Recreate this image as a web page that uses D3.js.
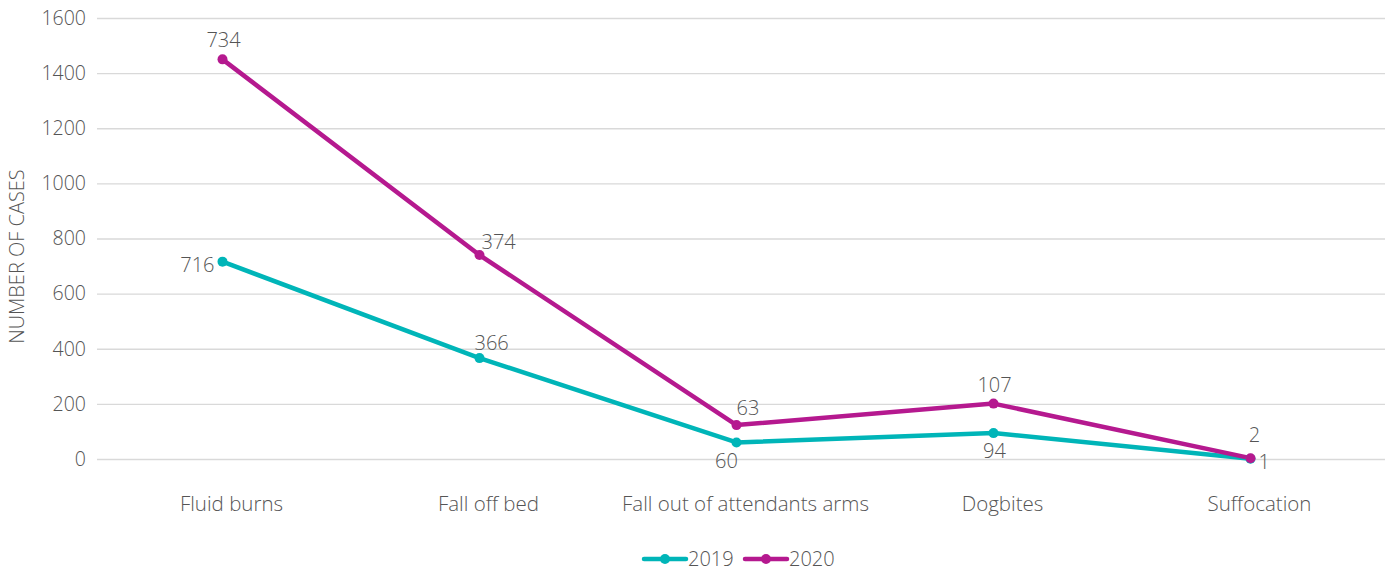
<!DOCTYPE html>
<html>
<head>
<meta charset="utf-8">
<script src="https://cdn.jsdelivr.net/npm/d3@7"></script>
<style>
  body { margin: 0; background: #fff; }
  text { font-family: "Open Sans", Lato, sans-serif; font-weight: 300; fill: #555555; }
</style>
</head>
<body>
<div id="chart"></div>
<script>
const categories = ["Fluid burns", "Fall off bed", "Fall out of attendants arms", "Dogbites", "Suffocation"];
const values2019 = [716, 366, 60, 94, 1];
const values2020 = [734, 374, 63, 107, 2];
const yTicks = [0, 200, 400, 600, 800, 1000, 1200, 1400, 1600];
const seriesNames = ["2019", "2020"];

const COLORS = { s2019: "#00B5B8", s2020: "#B5198F", grid: "#d9d9d9", text: "#555555" };
// label placement for each point
const place2019 = ["left", "aboveRight", "belowLeft", "below", "rightLow"];
const place2020 = ["above", "right", "aboveStart", "above", "aboveHigh"];

const W = 1389, H = 574;
const margin = { top: 18, right: 4, bottom: 115, left: 97 };
const width = W - margin.left - margin.right;
const height = H - margin.top - margin.bottom;

const svg = d3.select("#chart").append("svg")
    .attr("width", W).attr("height", H)
    .append("g")
    .attr("transform", `translate(${margin.left}, ${margin.top})`);

const x = d3.scaleBand().domain(categories).range([-3, width - 6]);
const y = d3.scaleLinear().domain([0, 1600]).range([height, 0]);

// grid + y axis
svg.append("g")
    .call(d3.axisLeft(y).tickValues(yTicks).tickSize(-width).tickPadding(11).tickFormat(d3.format("d")))
    .call(g => g.select(".domain").remove())
    .call(g => g.selectAll(".tick line").attr("stroke", COLORS.grid).attr("stroke-width", 1.3))
    .call(g => g.selectAll(".tick text").attr("font-size", 19.5).style("fill", COLORS.text));

// x axis labels
svg.append("g")
    .attr("transform", `translate(9, ${height})`)
    .call(d3.axisBottom(x).tickSize(0).tickPadding(37))
    .call(g => g.select(".domain").remove())
    .call(g => g.selectAll(".tick text").attr("font-size", 20.5).style("fill", COLORS.text));

svg.append("text")
    .attr("transform", `translate(${-80}, ${height / 2 + 18}) rotate(-90)`)
    .attr("text-anchor", "middle")
    .attr("dy", "0.35em")
    .attr("font-size", 20)
    .text("NUMBER OF CASES");

// stacked series
const stacked2019 = values2019.map((v, i) => ({ cat: categories[i], value: v, total: v, place: place2019[i] }));
const stacked2020 = values2020.map((v, i) => ({ cat: categories[i], value: v, total: v + values2019[i], place: place2020[i] }));
const series = [
    { name: seriesNames[0], color: COLORS.s2019, points: stacked2019 },
    { name: seriesNames[1], color: COLORS.s2020, points: stacked2020 }
];

const cx = d => x(d.cat) + x.bandwidth() / 2;
const line = d3.line().x(cx).y(d => y(d.total));

const offsets = {
    left: { dx: -8, dy: 10, anchor: "end" },
    rightLow: { dx: 8, dy: 10, anchor: "start" },
    right: { dx: 2, dy: -6, anchor: "start" },
    above: { dx: 1, dy: -12, anchor: "middle" },
    aboveHigh: { dx: 4, dy: -16, anchor: "middle" },
    aboveRight: { dx: -5, dy: -8, anchor: "start" },
    aboveStart: { dx: 0, dy: -10, anchor: "start" },
    below: { dx: 1, dy: 25, anchor: "middle" },
    belowLeft: { dx: -10, dy: 26, anchor: "middle" }
};

series.forEach(s => {
    svg.append("path")
        .datum(s.points)
        .attr("fill", "none")
        .attr("stroke", s.color)
        .attr("stroke-width", 4.5)
        .attr("stroke-linecap", "round")
        .attr("stroke-linejoin", "round")
        .attr("d", line);
});

series.forEach(s => {
    svg.selectAll(null)
        .data(s.points)
        .enter()
        .append("circle")
        .attr("cx", cx)
        .attr("cy", d => y(d.total))
        .attr("r", 5)
        .attr("fill", s.color);
});

series.forEach(s => {
    svg.selectAll(null)
        .data(s.points)
        .enter()
        .append("text")
        .attr("x", d => cx(d) + offsets[d.place].dx)
        .attr("y", d => y(d.total) + offsets[d.place].dy)
        .attr("text-anchor", d => offsets[d.place].anchor)
        .attr("font-size", 20)
        .text(d => d.value);
});

// legend
const legend = svg.append("g")
    .attr("transform", `translate(${644 - margin.left}, ${559 - margin.top})`);
const legendItems = legend.selectAll("g")
    .data(series)
    .enter()
    .append("g")
    .attr("transform", (d, i) => `translate(${i * 101}, 0)`);
legendItems.append("line")
    .attr("x1", 0).attr("x2", 42)
    .attr("stroke", d => d.color)
    .attr("stroke-width", 4.5)
    .attr("stroke-linecap", "round");
legendItems.append("circle")
    .attr("cx", 21).attr("r", 5)
    .attr("fill", d => d.color);
legendItems.append("text")
    .attr("x", 44).attr("dy", "0.35em")
    .attr("font-size", 20)
    .text(d => d.name);
</script>
</body>
</html>
